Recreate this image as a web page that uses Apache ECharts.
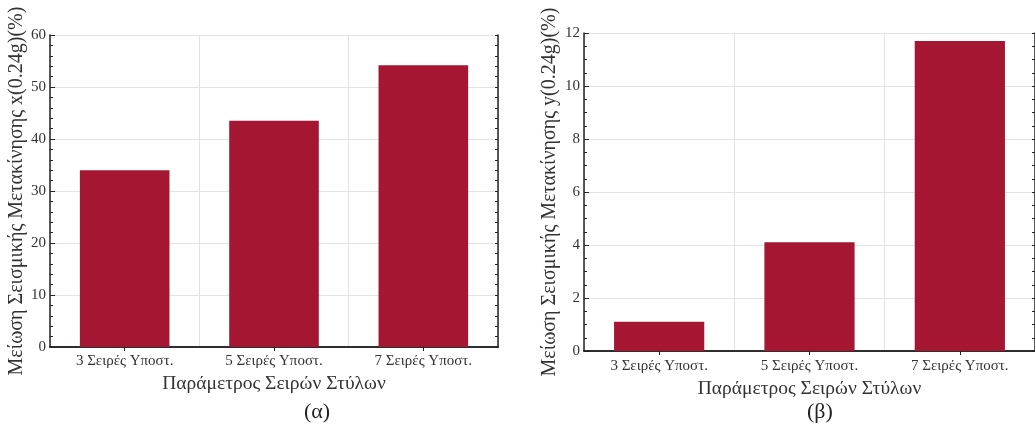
<!DOCTYPE html>
<html>
<head>
<meta charset="utf-8">
<script src="https://cdn.jsdelivr.net/npm/echarts@6/dist/echarts.min.js"></script>
<style>html,body{margin:0;padding:0;background:#fff}#c{width:1035px;height:425px}</style>
</head>
<body>
<div id="c"></div>
<script>
const categories = ['3 Σειρές Υποστ.', '5 Σειρές Υποστ.', '7 Σειρές Υποστ.'];
const valuesX = [34.0, 43.5, 54.2];
const valuesY = [1.1, 4.1, 11.7];
const xAxisTitle = 'Παράμετρος Σειρών Στύλων';
const yTitleA = 'Μείωση Σεισμικής Μετακίνησης x(0.24g)(%)';
const yTitleB = 'Μείωση Σεισμικής Μετακίνησης y(0.24g)(%)';
const panelLabels = ['(α)', '(β)'];

const FONT = 'Liberation Serif';
const BAR = '#A41632';
const AX = '#222';
const GRIDC = '#e3e3e3';

const chart = echarts.init(document.getElementById('c'), null, {renderer: 'canvas'});

function xBottom(gi, nameGap, margin) {
  return {
    type: 'category', gridIndex: gi, data: categories, position: 'bottom',
    axisLine: {show: true, onZero: false, lineStyle: {color: AX, width: 1.5}},
    axisTick: {show: true, inside: true, alignWithLabel: true, length: 4, lineStyle: {color: AX}},
    axisLabel: {fontFamily: FONT, fontSize: 15, color: '#333', margin: margin},
    splitLine: {show: true, lineStyle: {color: GRIDC}},
    name: xAxisTitle, nameLocation: 'middle', nameGap: nameGap,
    nameTextStyle: {fontFamily: FONT, fontSize: 19.5, color: '#333'}
  };
}
function xTop(gi) {
  return {
    type: 'category', gridIndex: gi, data: categories, position: 'top',
    axisLine: {show: true, lineStyle: {color: AX, width: 1.5}},
    axisTick: {show: true, inside: true, alignWithLabel: true, length: 4, lineStyle: {color: AX}},
    axisLabel: {show: false}, splitLine: {show: false}
  };
}
function yLeft(gi, max, interval, minorSplit, title, nameGap) {
  return {
    type: 'value', gridIndex: gi, min: 0, max: max, interval: interval, position: 'left',
    axisLine: {show: true, onZero: false, lineStyle: {color: AX, width: 1.5}},
    axisTick: {show: true, inside: true, length: 5, lineStyle: {color: AX}},
    minorTick: {show: true, splitNumber: minorSplit, length: 3, lineStyle: {color: AX}},
    axisLabel: {fontFamily: FONT, fontSize: 15, color: '#333', margin: 4},
    splitLine: {show: true, lineStyle: {color: GRIDC}},
    name: title, nameLocation: 'middle', nameGap: nameGap,
    nameTextStyle: {fontFamily: FONT, fontSize: 20, color: '#333'}
  };
}
function yRight(gi, max, interval) {
  return {
    type: 'value', gridIndex: gi, min: 0, max: max, interval: interval, position: 'right',
    axisLine: {show: true, onZero: false, lineStyle: {color: AX, width: 1.5}},
    axisTick: {show: true, inside: true, length: 3, lineStyle: {color: AX}},
    axisLabel: {show: false}, splitLine: {show: false}
  };
}

chart.setOption({
  animation: false,
  backgroundColor: '#fff',
  grid: [
    {left: 50, top: 35, width: 448, height: 312},
    {left: 584, top: 33, width: 459, height: 318}
  ],
  xAxis: [xBottom(0, 24, 7), xTop(0), xBottom(1, 24, 8), xTop(1)],
  yAxis: [
    yLeft(0, 60, 10, 5, yTitleA, 22),
    yRight(0, 60, 2),
    yLeft(1, 12, 2, 4, yTitleB, 24),
    yRight(1, 12, 0.5)
  ],
  series: [
    {type: 'bar', xAxisIndex: 0, yAxisIndex: 0, data: valuesX, barWidth: '60%', itemStyle: {color: BAR}},
    {type: 'bar', xAxisIndex: 2, yAxisIndex: 2, data: valuesY, barWidth: '60%', itemStyle: {color: BAR}}
  ],
  graphic: [
    {type: 'text', left: 304, top: 401, style: {text: panelLabels[0], font: '22px "Liberation Serif"', fill: '#222'}},
    {type: 'text', left: 807, top: 401, style: {text: panelLabels[1], font: '22px "Liberation Serif"', fill: '#222'}}
  ]
});
</script>
</body>
</html>
